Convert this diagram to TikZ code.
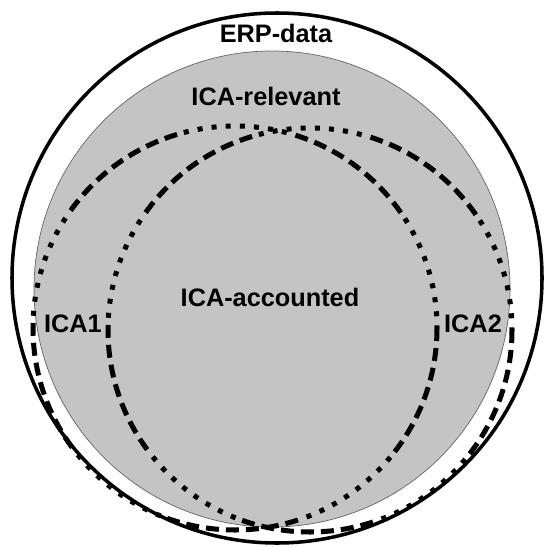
\documentclass[tikz,border=0pt]{standalone}
\usepackage{fontspec}
\setmainfont{Liberation Sans}
\usepackage{tikz}

\tikzset{
  icaline/.style={line width=2.85pt,
    dash pattern=on 7.4pt off 4pt on 7.4pt off 4pt on 7.4pt off 4pt on 7.4pt off 4pt
      on 7.4pt off 4pt on 7.4pt off 4pt on 7.4pt off 4pt
      on 2.85pt off 5.2pt on 2.85pt off 5.2pt on 2.85pt off 5.2pt on 2.85pt off 5.2pt
      on 2.85pt off 5.2pt on 2.85pt off 5.2pt on 2.85pt off 5.2pt on 2.85pt off 5.2pt},
  setlabel/.style={font=\fontsize{14.4}{16}\selectfont\bfseries}
}

\begin{document}
\begin{tikzpicture}[x=0.02cm,y=-0.02cm]
\useasboundingbox (0,0) rectangle (544,547);
\fill[white] (0,0) rectangle (544,547);
% ERP-data
\draw[line width=2pt] (277,278) circle (265);
% ICA-relevant
\fill[gray!46] (272,289) circle (238);
\draw[gray!80!black,line width=0.4pt] (272,289) circle (238);
% ICA1 and ICA2
\draw[icaline] (235,328) circle (202);
\draw[icaline] (310,330) circle (202);
\node[setlabel] (erp) at (276,33) {ERP-data};
\node[setlabel] (relevant) at (266,96) {ICA-relevant};
\node[setlabel] (accounted) at (270,297) {ICA-accounted};
\node[setlabel] (ica1) at (73,324) {ICA1};
\node[setlabel] (ica2) at (473,324) {ICA2};
\end{tikzpicture}
\end{document}
